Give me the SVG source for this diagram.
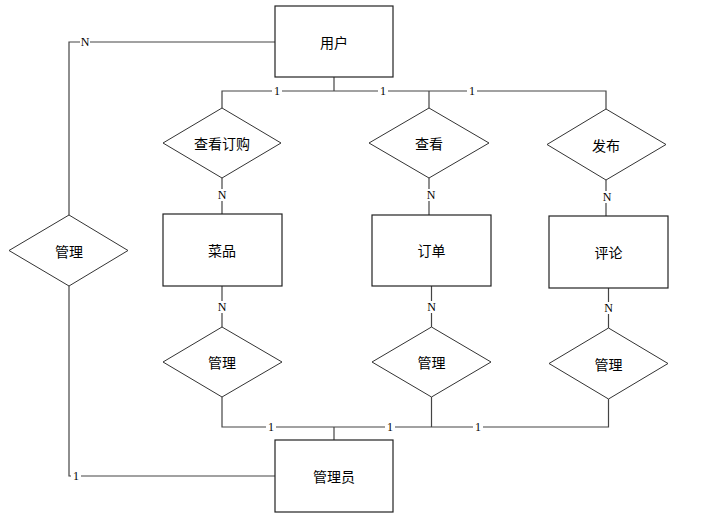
<svg xmlns="http://www.w3.org/2000/svg" width="721" height="521" viewBox="0 0 721 521">
<style>
.box{fill:#fff;stroke:#222;stroke-width:1.2}
.dia{fill:#fff;stroke:#333;stroke-width:1}
.t{font-family:"Noto Sans CJK SC","Noto Sans",sans-serif;font-size:14px;fill:#000;text-anchor:middle;dominant-baseline:central}
.ln{fill:none;stroke:#444;stroke-width:1.2}
.lb{font-family:"Liberation Serif","DejaVu Serif",serif;font-size:12px;fill:#000;text-anchor:middle;dominant-baseline:central}
.bg{fill:#fff}
</style>
<rect width="721" height="521" fill="#fff"/>
<g id="connectors">
<path class="ln" d="M275,42 H69 V215"/>
<path class="ln" d="M69,286 V476 H275"/>
<path class="ln" d="M334,77 V91"/>
<path class="ln" d="M222,108 V91 H606 V109"/>
<path class="ln" d="M429,91 V108"/>
<path class="ln" d="M222,178 V214"/>
<path class="ln" d="M429,178 V215"/>
<path class="ln" d="M606,180 V216"/>
<path class="ln" d="M222,286 V327"/>
<path class="ln" d="M431.5,286 V327"/>
<path class="ln" d="M608.5,288 V328"/>
<path class="ln" d="M222,397 V427 H608.5 V399"/>
<path class="ln" d="M431.5,397 V427"/>
<path class="ln" d="M334,427 V440"/>
<rect class="bg" x="80" y="36" width="10" height="12"/><text class="lb" x="85" y="42">N</text>
<rect class="bg" x="71" y="470" width="10" height="12"/><text class="lb" x="76" y="476">1</text>
<rect class="bg" x="272" y="85" width="10" height="12"/><text class="lb" x="277" y="91">1</text>
<rect class="bg" x="378" y="85" width="10" height="12"/><text class="lb" x="383" y="91">1</text>
<rect class="bg" x="467" y="85" width="10" height="12"/><text class="lb" x="472" y="91">1</text>
<rect class="bg" x="217" y="189" width="10" height="12"/><text class="lb" x="222" y="195">N</text>
<rect class="bg" x="426" y="189" width="10" height="12"/><text class="lb" x="431" y="195">N</text>
<rect class="bg" x="602" y="191" width="10" height="12"/><text class="lb" x="607" y="197">N</text>
<rect class="bg" x="217" y="301" width="10" height="12"/><text class="lb" x="222" y="307">N</text>
<rect class="bg" x="426" y="301" width="10" height="12"/><text class="lb" x="431.5" y="307">N</text>
<rect class="bg" x="603" y="302" width="10" height="12"/><text class="lb" x="608.5" y="308">N</text>
<rect class="bg" x="266" y="421" width="10" height="12"/><text class="lb" x="271" y="427">1</text>
<rect class="bg" x="385" y="421" width="10" height="12"/><text class="lb" x="390" y="427">1</text>
<rect class="bg" x="473" y="421" width="10" height="12"/><text class="lb" x="478" y="427">1</text>
</g>
<g id="user"><rect class="box" x="275" y="6" width="118" height="71"/><text class="t" x="334" y="42">用户</text></g>
<g id="admin"><rect class="box" x="275" y="440" width="118" height="72"/><text class="t" x="334" y="476">管理员</text></g>
<g id="dish"><rect class="box" x="163" y="214" width="119" height="72"/><text class="t" x="222" y="250">菜品</text></g>
<g id="order"><rect class="box" x="372" y="215" width="119" height="71"/><text class="t" x="431.5" y="250">订单</text></g>
<g id="comment"><rect class="box" x="549" y="216" width="119" height="72"/><text class="t" x="608.5" y="252">评论</text></g>
<g id="rel-view-order"><polygon class="dia" points="222,108 281,143 222,178 163,143"/><text class="t" x="222" y="143">查看订购</text></g>
<g id="rel-view"><polygon class="dia" points="429,108 489,143 429,178 369,143"/><text class="t" x="429" y="143">查看</text></g>
<g id="rel-publish"><polygon class="dia" points="606,109 666,144.5 606,180 547,144.5"/><text class="t" x="606" y="144.5">发布</text></g>
<g id="rel-manage-user"><polygon class="dia" points="69,215 128,250.5 69,286 9,250.5"/><text class="t" x="69" y="250.5">管理</text></g>
<g id="rel-manage-dish"><polygon class="dia" points="222,327 282,362 222,397 163,362"/><text class="t" x="222" y="362">管理</text></g>
<g id="rel-manage-order"><polygon class="dia" points="431.5,327 491,362 431.5,397 372,362"/><text class="t" x="431.5" y="362">管理</text></g>
<g id="rel-manage-comment"><polygon class="dia" points="608.5,328 668,363.5 608.5,399 549,363.5"/><text class="t" x="608.5" y="363.5">管理</text></g>
</svg>
